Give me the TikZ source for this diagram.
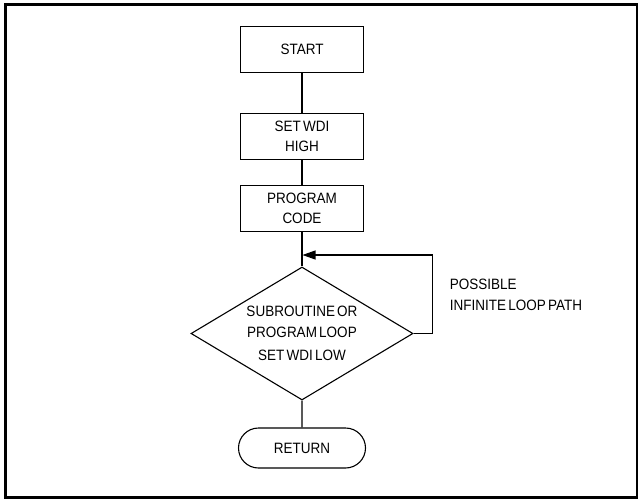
\documentclass[tikz,border=0pt]{standalone}
\usepackage{fontspec}
\setmainfont{Liberation Sans}[FakeStretch=0.9,WordSpace=0.6]
\usetikzlibrary{shapes.geometric,shapes.misc,arrows.meta}

\begin{document}
\begin{tikzpicture}[x=1pt,y=-1pt,
  line width=1.1pt,
  txt/.style={font=\fontsize{15}{20.5}\selectfont,align=center},
  box/.style={txt,draw,minimum width=123pt,minimum height=46pt,inner sep=0pt},
  test/.style={txt,draw,diamond,aspect=1.67,minimum width=222pt,minimum height=133pt,inner sep=0pt},
  term/.style={txt,draw,rounded rectangle,minimum width=127pt,minimum height=40pt,inner sep=0pt}]
\useasboundingbox (0,0) rectangle (639,500);
\draw[line width=2.5pt] (5.5,4.5) rectangle (637,497.5);

\node[box] (start) at (302,49.5) {START};
\node[box] (wdihigh) at (302,136.5) {SET WDI\\HIGH};
\node[box] (code) at (302,208.5) {PROGRAM\\CODE};
\node[test] (loop) at (302,333.5) {SUBROUTINE OR\\PROGRAM LOOP\\[3pt]SET WDI LOW};
\node[term] (ret) at (302,448) {RETURN};
\node[txt,align=left,anchor=west] (path) at (446,295) {POSSIBLE\\INFINITE LOOP PATH};

\coordinate (join) at (302.5,255);

\draw (start) -- (wdihigh);
\draw (wdihigh) -- (code);
\draw (code) -- (loop);
\draw (loop) -- (ret);
\draw[-{Triangle[length=13pt,width=9pt]}] (loop.east) -- ++(19,0) |- (join);
\end{tikzpicture}
\end{document}
